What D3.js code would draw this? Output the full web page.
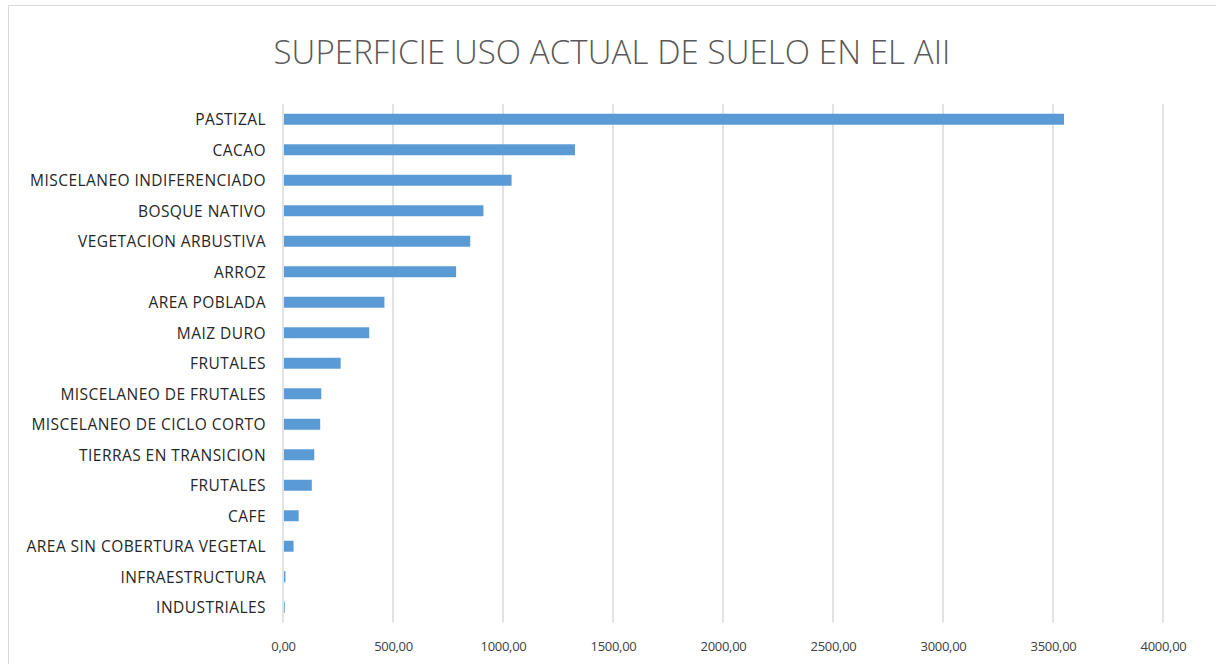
<!DOCTYPE html>
<html>
<head>
<meta charset="utf-8">
<script src="https://cdn.jsdelivr.net/npm/d3@7"></script>
<style>
  html, body { margin: 0; padding: 0; background: #ffffff; }
  svg { display: block; }
</style>
</head>
<body>
<svg id="chart" width="1216" height="664"></svg>
<script>
const title = "SUPERFICIE USO ACTUAL DE SUELO EN EL AII";
const categories = [
  "PASTIZAL", "CACAO", "MISCELANEO INDIFERENCIADO", "BOSQUE NATIVO",
  "VEGETACION ARBUSTIVA", "ARROZ", "AREA POBLADA", "MAIZ DURO", "FRUTALES",
  "MISCELANEO DE FRUTALES", "MISCELANEO DE CICLO CORTO", "TIERRAS EN TRANSICION",
  "FRUTALES", "CAFE", "AREA SIN COBERTURA VEGETAL", "INFRAESTRUCTURA", "INDUSTRIALES"
];
const values = [3550, 1327, 1039, 911, 851, 787, 461, 392, 262, 174, 169, 142, 131, 71, 48, 11, 8];
const xTicks = [0, 500, 1000, 1500, 2000, 2500, 3000, 3500, 4000];

const svg = d3.select("#chart");
const fontFamily = "'Open Sans', 'Liberation Sans', sans-serif";

// chart border
svg.append("rect")
  .attr("x", 8.5).attr("y", 5.5)
  .attr("width", 1230).attr("height", 680)
  .attr("fill", "#ffffff")
  .attr("stroke", "#d9d9d9").attr("stroke-width", 1);

const plotLeft = 283, plotRight = 1163, plotTop = 104, plotBottom = 622.5;

const x = d3.scaleLinear().domain([0, 4000]).range([plotLeft, plotRight]);
const idx = categories.map((d, i) => i);
const y = d3.scaleBand().domain(idx).range([plotTop, plotBottom]).paddingInner(0.64).paddingOuter(0.32);

// gridlines
svg.append("g")
  .selectAll("line")
  .data(xTicks)
  .join("line")
  .attr("x1", d => x(d)).attr("x2", d => x(d))
  .attr("y1", plotTop).attr("y2", plotBottom)
  .attr("stroke", "#d9d9d9").attr("stroke-width", 1.5);

// bars
svg.append("g")
  .selectAll("rect")
  .data(values)
  .join("rect")
  .attr("x", x(0) + 1)
  .attr("y", (d, i) => y(i))
  .attr("width", d => Math.max(0, x(d) - x(0) - 1))
  .attr("height", y.bandwidth())
  .attr("fill", "#5b9bd5");

// x axis labels
const xAxis = d3.axisBottom(x)
  .tickValues(xTicks)
  .tickSize(0)
  .tickPadding(0)
  .tickFormat(d => d3.format(".2f")(d).replace(".", ","));
const gx = svg.append("g").attr("transform", `translate(0,${plotBottom + 19})`).call(xAxis);
gx.select(".domain").remove();
gx.selectAll("text")
  .attr("font-family", fontFamily)
  .attr("font-size", 13)
  .attr("letter-spacing", -0.3)
  .attr("fill", "#404040");

// y axis labels
const yAxis = d3.axisLeft(y)
  .tickSize(0)
  .tickPadding(0)
  .tickFormat(i => categories[i]);
const gy = svg.append("g").attr("transform", `translate(266,1)`).call(yAxis);
gy.select(".domain").remove();
gy.selectAll("text")
  .attr("font-family", fontFamily)
  .attr("font-size", 15.5)
  .attr("letter-spacing", 0.45)
  .attr("fill", "#262626");

// title
svg.append("text")
  .attr("x", 612).attr("y", 64)
  .attr("text-anchor", "middle")
  .attr("font-family", fontFamily)
  .attr("font-size", 33)
  .attr("font-weight", 300)
  .attr("letter-spacing", 0.1)
  .attr("fill", "#595959")
  .text(title);
</script>
</body>
</html>
